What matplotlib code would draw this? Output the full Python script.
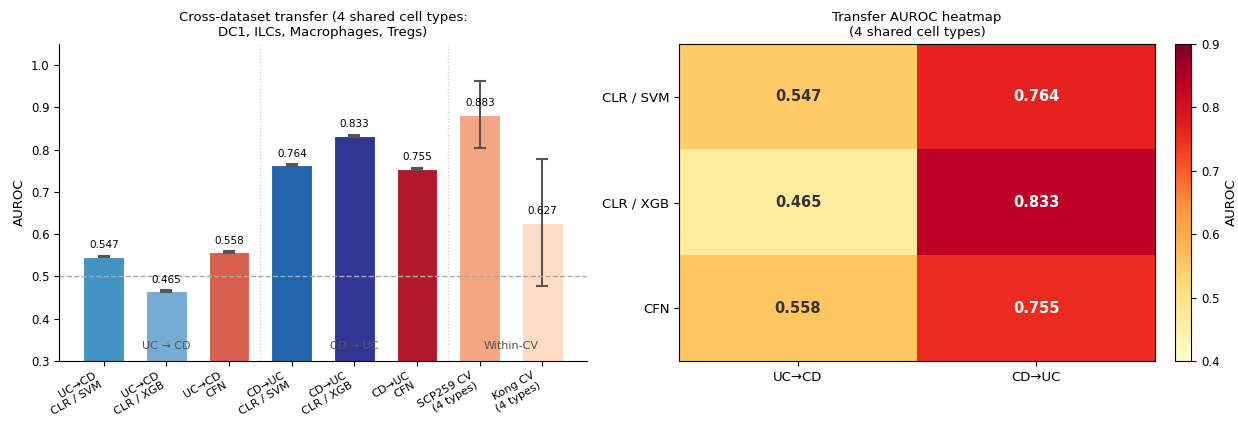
import numpy as np
import matplotlib
matplotlib.use('Agg')
import matplotlib.pyplot as plt

# bar chart data
bar_labels = ["UC→CD\nCLR / SVM", "UC→CD\nCLR / XGB", "UC→CD\nCFN",
              "CD→UC\nCLR / SVM", "CD→UC\nCLR / XGB", "CD→UC\nCFN",
              "SCP259 CV\n(4 types)", "Kong CV\n(4 types)"]
bar_values = [0.547, 0.465, 0.558, 0.764, 0.833, 0.755, 0.883, 0.627]
bar_errors = [0.002, 0.002, 0.002, 0.002, 0.002, 0.002, 0.080, 0.150]
bar_colors = ["#4292c6", "#74add1", "#d6604d", "#2166ac", "#313695", "#b2182b",
              "#f4a582", "#fddbc7"]
group_names = ["UC → CD", "CD → UC", "Within-CV"]
group_centers = [1, 4, 6.5]

# heatmap data
hm_rows = ["CLR / SVM", "CLR / XGB", "CFN"]
hm_cols = ["UC→CD", "CD→UC"]
hm_values = np.array([[0.547, 0.764],
                      [0.465, 0.833],
                      [0.558, 0.755]])

fig = plt.figure(figsize=(12.38, 4.21), dpi=100)

ax = fig.add_axes([0.048, 0.1425, 0.426, 0.753])
x = np.arange(len(bar_values))
ax.bar(x, bar_values, width=0.65, color=bar_colors, edgecolor='white', linewidth=0.8,
       yerr=bar_errors, capsize=4, error_kw=dict(ecolor='#555555', elinewidth=1.5, capthick=1.5))
for xi, v in zip(x, bar_values):
    ax.text(xi, v + 0.015, f"{v:.3f}", ha='center', va='bottom', fontsize=7.5)
ax.axhline(0.5, color='#aaaaaa', linestyle='--', linewidth=1)
for sep in [2.5, 5.5]:
    ax.axvline(sep, color='#cccccc', linestyle=':', linewidth=0.9)
for gx, gname in zip(group_centers, group_names):
    ax.text(gx, 0.335, gname, ha='center', va='center', fontsize=8, color='#555555')
ax.set_xticks(x)
ax.set_xticklabels(bar_labels, rotation=30, ha='right', fontsize=8)
ax.tick_params(axis='x', pad=3)
ax.set_ylim(0.3, 1.05)
ax.set_ylabel("AUROC", fontsize=9.5)
ax.tick_params(axis='y', labelsize=8.5)
ax.set_title("Cross-dataset transfer (4 shared cell types:\nDC1, ILCs, Macrophages, Tregs)", fontsize=9.5)
ax.spines['top'].set_visible(False)
ax.spines['right'].set_visible(False)

ax2 = fig.add_axes([0.5485, 0.1425, 0.3845, 0.753])
im = ax2.imshow(hm_values, cmap='YlOrRd', vmin=0.4, vmax=0.9, aspect='auto')
for i in range(len(hm_rows)):
    for j in range(len(hm_cols)):
        v = hm_values[i, j]
        ax2.text(j, i, f"{v:.3f}", ha='center', va='center', fontsize=10.5, fontweight='bold',
                 color='white' if v > 0.7 else '#333333')
ax2.set_xticks(range(len(hm_cols)))
ax2.set_xticklabels(hm_cols, fontsize=9.5)
ax2.set_yticks(range(len(hm_rows)))
ax2.set_yticklabels(hm_rows, fontsize=9.5)
ax2.set_title("Transfer AUROC heatmap\n(4 shared cell types)", fontsize=9.5)

cax = fig.add_axes([0.9495, 0.1425, 0.0129, 0.753])
cb = fig.colorbar(im, cax=cax)
cb.set_label("AUROC", fontsize=9.5)
cb.ax.tick_params(labelsize=8.5)

fig.savefig("out.png", dpi=100)
